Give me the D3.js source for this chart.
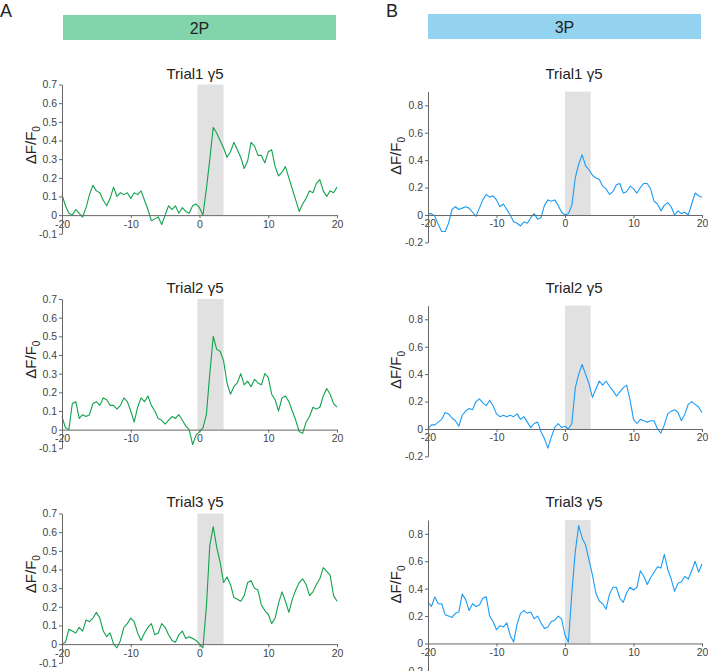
<!DOCTYPE html>
<html>
<head>
<meta charset="utf-8">
<script src="https://cdn.jsdelivr.net/npm/d3@7/dist/d3.min.js"></script>
<style>
  body { margin: 0; background: #fff; }
  text { font-family: "Liberation Sans", Arial, sans-serif; }
</style>
</head>
<body>
<script>
// sample times (s), 0.5 s steps
var times = d3.range(-20, 20.001, 0.5);
var xTicks = [-20, -10, 0, 10, 20];
var yTicks2P = [-0.1, 0, 0.1, 0.2, 0.3, 0.4, 0.5, 0.6, 0.7];
var yTicks3P = [-0.2, 0, 0.2, 0.4, 0.6, 0.8];
var trialNames = ["Trial1 γ5", "Trial2 γ5", "Trial3 γ5"];
var stim2P = [-0.3, 3.5];
var stim3P = [0, 3.75];

var trial1_2P = [0.11,0.05,0.01,0.0,0.03,0.01,-0.01,0.04,0.11,0.16,0.13,0.12,0.08,0.05,0.09,0.15,0.10,0.12,0.11,0.12,
  0.09,0.12,0.11,0.13,0.08,0.03,-0.03,-0.02,-0.01,-0.05,0.0,0.05,0.03,0.05,0.01,0.04,0.02,0.01,0.05,0.06,
  0.04,0.0,0.14,0.30,0.47,0.44,0.40,0.36,0.31,0.34,0.39,0.35,0.31,0.25,0.29,0.39,0.37,0.32,0.32,0.28,
  0.34,0.35,0.26,0.21,0.23,0.26,0.20,0.14,0.08,0.02,0.06,0.09,0.13,0.12,0.17,0.19,0.13,0.10,0.13,0.12,0.15];
var trial2_2P = [0.07,0.01,0.0,0.14,0.15,0.06,0.08,0.07,0.08,0.14,0.15,0.13,0.17,0.16,0.13,0.13,0.11,0.13,0.17,0.15,
  0.10,0.04,0.12,0.17,0.15,0.18,0.13,0.10,0.06,0.05,0.03,0.05,0.07,0.06,0.08,0.05,0.02,0.0,-0.08,-0.03,
  -0.01,0.01,0.08,0.30,0.50,0.43,0.42,0.37,0.25,0.19,0.23,0.25,0.30,0.24,0.26,0.23,0.27,0.25,0.24,0.30,
  0.28,0.19,0.16,0.10,0.17,0.18,0.15,0.10,0.05,-0.01,-0.02,0.04,0.07,0.12,0.11,0.12,0.18,0.22,0.19,0.14,0.12];
var trial3_2P = [0.0,0.01,0.08,0.07,0.06,0.09,0.07,0.13,0.12,0.14,0.17,0.14,0.07,0.04,0.06,0.0,-0.02,0.02,0.09,0.11,
  0.14,0.12,0.06,0.02,0.06,0.09,0.11,0.05,0.06,0.11,0.09,0.05,0.02,0.01,0.05,0.07,0.03,0.04,0.03,0.02,
  0.0,-0.02,0.20,0.53,0.63,0.52,0.44,0.33,0.36,0.32,0.25,0.24,0.23,0.26,0.33,0.34,0.30,0.29,0.21,0.18,
  0.16,0.11,0.14,0.22,0.28,0.23,0.17,0.24,0.29,0.33,0.35,0.32,0.26,0.28,0.32,0.35,0.41,0.39,0.37,0.26,0.23];

var trial1_3P = [0.01,0.01,-0.01,-0.07,-0.12,-0.12,-0.06,0.04,0.06,0.04,0.05,0.06,0.05,0.02,-0.01,0.05,0.11,0.15,0.13,0.14,
  0.11,0.06,0.08,0.04,0.0,-0.05,-0.06,-0.08,-0.05,-0.06,-0.02,0.01,-0.03,-0.02,0.07,0.11,0.10,0.11,0.07,0.02,
  0.0,0.01,0.07,0.27,0.37,0.44,0.36,0.33,0.29,0.27,0.26,0.21,0.19,0.15,0.17,0.22,0.23,0.16,0.17,0.21,
  0.19,0.16,0.20,0.23,0.23,0.19,0.10,0.08,0.03,0.07,0.09,0.06,0.0,0.03,0.01,0.02,0.0,0.08,0.16,0.14,0.13];
var trial2_3P = [0.0,0.03,0.03,0.05,0.07,0.12,0.11,0.08,0.06,0.02,0.10,0.13,0.15,0.14,0.20,0.22,0.19,0.17,0.21,0.17,
  0.11,0.09,0.10,0.09,0.10,0.09,0.11,0.07,0.09,0.05,0.01,0.04,0.05,-0.02,-0.07,-0.14,-0.06,0.01,0.04,0.01,
  0.02,0.0,0.04,0.30,0.40,0.47,0.40,0.33,0.23,0.29,0.35,0.32,0.35,0.31,0.28,0.24,0.27,0.30,0.32,0.21,
  0.07,0.04,0.07,0.06,0.05,0.06,0.06,0.0,-0.03,0.03,0.11,0.13,0.14,0.12,0.06,0.11,0.18,0.20,0.18,0.16,0.12];
var trial3_3P = [0.30,0.27,0.34,0.29,0.29,0.21,0.20,0.19,0.22,0.23,0.36,0.32,0.24,0.29,0.27,0.28,0.33,0.34,0.20,0.16,
  0.10,0.13,0.12,0.15,0.06,0.01,0.14,0.22,0.24,0.22,0.23,0.18,0.20,0.15,0.11,0.12,0.16,0.17,0.20,0.18,
  0.06,0.01,0.37,0.67,0.86,0.77,0.72,0.61,0.50,0.37,0.31,0.29,0.25,0.36,0.41,0.41,0.33,0.30,0.37,0.41,
  0.39,0.41,0.53,0.49,0.43,0.48,0.52,0.56,0.55,0.65,0.54,0.47,0.38,0.44,0.45,0.49,0.47,0.53,0.60,0.52,0.58];

var W = 708, H = 671;
var svg = d3.select("body").append("svg").attr("width", W).attr("height", H);

var columns = [
  { letter: "A", letterX: 0, header: "2P", headerFill: "#82d4aa", hx: [63, 336], hy: [15, 40],
    stroke: "#10a24c", xr: [62, 337], yd: [-0.1, 0.7], yr: [233.8, 84.5], ticks: yTicks2P,
    rows: [0, 214.5, 429], stim: stim2P, titleX: 195, labelX: 31, labelAt: 0.375,
    series: [trial1_2P, trial2_2P, trial3_2P] },
  { letter: "B", letterX: 386, header: "3P", headerFill: "#94d3ef", hx: [428, 701], hy: [14, 39],
    stroke: "#1a9cf5", xr: [428, 702], yd: [-0.2, 0.9], yr: [242.4, 91.6], ticks: yTicks3P,
    rows: [0, 214, 428.5], stim: stim3P, titleX: 574, labelX: 396, labelAt: 0.43,
    series: [trial1_3P, trial2_3P, trial3_3P] }
];
var titleY = [79, 292.5, 506.7];

function fmt(d) { return d === 0 ? "0" : String(Math.round(d * 10) / 10); }

columns.forEach(function(col) {
  svg.append("text").attr("x", col.letterX).attr("y", 17)
    .style("font-size", "18px").style("fill", "#222").text(col.letter);
  svg.append("rect").attr("x", col.hx[0]).attr("y", col.hy[0])
    .attr("width", col.hx[1] - col.hx[0]).attr("height", col.hy[1] - col.hy[0])
    .attr("fill", col.headerFill);
  svg.append("text").attr("x", (col.hx[0] + col.hx[1]) / 2).attr("y", (col.hy[0] + col.hy[1]) / 2 + 6)
    .attr("text-anchor", "middle").style("font-size", "16px").style("fill", "#222").text(col.header);

  var x = d3.scaleLinear().domain([-20, 20]).range(col.xr);

  col.series.forEach(function(vals, i) {
    var off = col.rows[i];
    var y = d3.scaleLinear().domain(col.yd).range([col.yr[0] + off, col.yr[1] + off]);
    var g = svg.append("g");

    g.append("rect")
      .attr("x", x(col.stim[0])).attr("width", x(col.stim[1]) - x(col.stim[0]))
      .attr("y", y(col.yd[1])).attr("height", y(0) - y(col.yd[1]))
      .attr("fill", "#e1e1e1");

    var line = d3.line().x(function(d, j) { return x(times[j]); }).y(function(d) { return y(d); });
    g.append("path").datum(vals).attr("d", line)
      .attr("fill", "none").attr("stroke", col.stroke).attr("stroke-width", 1.1)
      .attr("stroke-linejoin", "round");

    var xa = g.append("g").attr("transform", "translate(0," + y(0) + ")")
      .call(d3.axisBottom(x).tickValues(xTicks).tickSize(3).tickSizeOuter(0).tickPadding(2).tickFormat(fmt));
    var ya = g.append("g").attr("transform", "translate(" + col.xr[0] + ",0)")
      .call(d3.axisLeft(y).tickValues(col.ticks).tickSize(3).tickSizeOuter(0).tickPadding(2).tickFormat(fmt));
    [xa, ya].forEach(function(a) {
      a.select(".domain").attr("stroke", "#666");
      a.selectAll(".tick line").attr("stroke", "#666");
      a.selectAll(".tick text").style("font-size", "10.5px").style("fill", "#444")
        .style("font-family", "'Liberation Sans', Arial, sans-serif");
    });

    g.append("text").attr("x", col.titleX).attr("y", titleY[i])
      .attr("text-anchor", "middle").style("font-size", "15px").style("fill", "#222")
      .text(trialNames[i]);

    var lab = g.append("text")
      .attr("transform", "translate(" + (col.labelX + 5) + "," + y(col.labelAt) + ") rotate(-90)")
      .attr("text-anchor", "middle").style("font-size", "15px").style("fill", "#222");
    lab.append("tspan").text("ΔF/F");
    lab.append("tspan").attr("dy", 4).style("font-size", "10px").text("0");
  });
});
</script>
</body>
</html>
